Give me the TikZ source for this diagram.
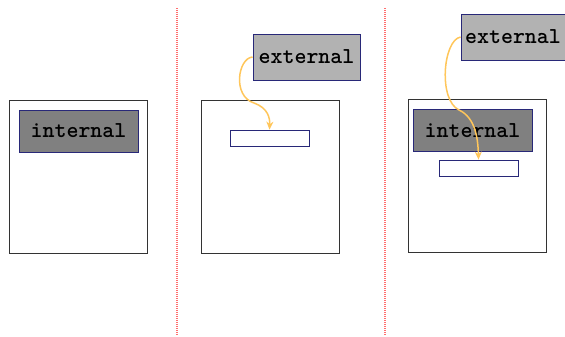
\documentclass[tikz,border=0pt]{standalone}
\usepackage{fontspec}
\usetikzlibrary{arrows.meta}

\definecolor{navy}{RGB}{40,40,120}
\definecolor{ingray}{RGB}{128,128,128}
\definecolor{exgray}{RGB}{178,178,178}
\definecolor{flow}{RGB}{255,198,90}
\definecolor{sepred}{RGB}{255,110,110}

\begin{document}
\begin{tikzpicture}[x=0.5pt,y=-0.5pt,
    label font/.style={font=\fontsize{11.4}{13}\selectfont\ttfamily\bfseries},
    frame/.style={draw=black!80,fill=white,minimum width=69pt,minimum height=76.5pt,inner sep=0pt},
    inbox/.style={draw=navy,fill=ingray,minimum width=59.5pt,minimum height=21pt,inner sep=0pt,label font},
    exbox/.style={draw=navy,fill=exgray,minimum width=53.5pt,minimum height=23pt,inner sep=0pt,label font},
    slot/.style={draw=navy,fill=white,minimum width=39.5pt,minimum height=8pt,inner sep=0pt},
    separator/.style={draw=sepred,line width=0.6pt,dash pattern=on 0.5pt off 0.5pt},
    flowline/.style={draw=flow,line width=0.75pt,-{Stealth[length=4pt,width=3.5pt]}}]
  \useasboundingbox (0,0) rectangle (565,336);

  % separators
  \coordinate (s1top) at (177,8);
  \coordinate (s1bot) at (177,336);
  \coordinate (s2top) at (385,8);
  \coordinate (s2bot) at (385,336);
  \draw [separator] (s1top) -- (s1bot);
  \draw [separator] (s2top) -- (s2bot);

  % left: internal only
  \node [frame] (box1) at (78,176.5) {};
  \node [inbox] (int1) at (78.5,131) {internal};

  % middle: external into slot
  \node [frame] (box2) at (270.5,176.5) {};
  \node [slot] (slot2) at (269.5,138) {};
  \node [exbox] (ext2) at (306.5,57) {external};
  \draw [flowline] (ext2.west) .. controls (238,58) and (232,96) .. (254,103)
                               .. controls (268,108) and (270,118) .. (slot2.north);

  % right: external over internal
  \node [frame] (box3) at (477,175.5) {};
  \node [inbox] (int3) at (472.5,130.5) {internal};
  \node [slot] (slot3) at (478.5,168) {};
  \node [exbox, minimum width=52pt] (ext3) at (513,37) {external};
  \draw [flowline] (ext3.west) .. controls (443,40) and (438,100) .. (459,110)
                               .. controls (476,118) and (478,140) .. (slot3.north);
\end{tikzpicture}
\end{document}
